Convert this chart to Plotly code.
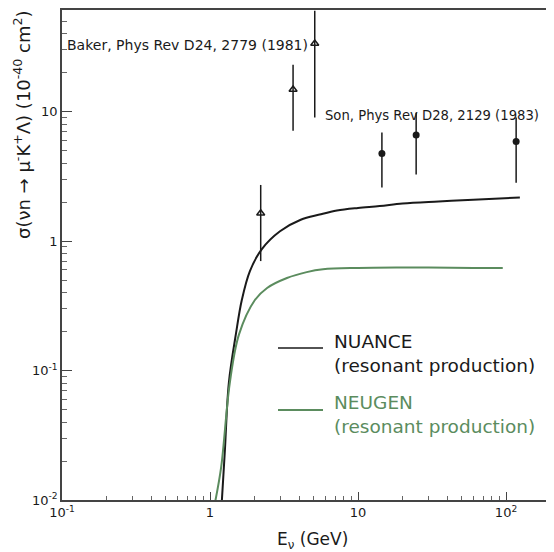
import plotly.graph_objects as go

# NUANCE resonant production curve
nuance_e = [1.20, 1.26, 1.34, 1.50, 1.64, 1.86, 2.24, 2.97, 4.1, 5.5, 7.2, 10, 14, 20, 35, 60, 124]
nuance_s = [0.0095, 0.024, 0.080, 0.195, 0.35, 0.586, 0.867, 1.19, 1.46, 1.60, 1.72, 1.80, 1.86, 1.95, 2.02, 2.08, 2.17]

# NEUGEN resonant production curve
neugen_e = [1.08, 1.19, 1.36, 1.57, 2.01, 2.43, 3.31, 4.5, 5.8, 10, 20, 30, 60, 95]
neugen_s = [0.0095, 0.018, 0.080, 0.19, 0.35, 0.434, 0.518, 0.575, 0.605, 0.62, 0.625, 0.625, 0.62, 0.62]

# Baker, Phys Rev D24 (open triangles)
baker_e = [2.2, 3.64, 5.1]
baker_s = [1.64, 14.8, 33.5]
baker_hi = [2.71, 23.0, 60.0]
baker_lo = [0.70, 7.1, 9.0]

# Son, Phys Rev D28 (filled circles)
son_e = [14.5, 24.7, 117]
son_s = [4.74, 6.6, 5.87]
son_hi = [6.9, 9.8, 9.0]
son_lo = [2.59, 3.27, 2.82]

GREEN = "#5b8c5e"
INK = "#1a1a1a"
FONT = "DejaVu Sans"

OFF = 8  # page body margin
FW, FH = 554 - OFF, 552 - OFF
L, T, W, H = 62, 10, 492, 490  # plot area in page pixels


def px(x):
    return (x - L) / W


def py(y):
    return (T + H - y) / H


fig = go.Figure()

fig.add_trace(go.Scatter(x=nuance_e, y=nuance_s, mode="lines", line=dict(color=INK, width=2, shape="spline"),
                         showlegend=False))
fig.add_trace(go.Scatter(x=neugen_e, y=neugen_s, mode="lines", line=dict(color=GREEN, width=2, shape="spline"),
                         showlegend=False))

fig.add_trace(go.Scatter(
    x=baker_e, y=baker_s, mode="markers",
    marker=dict(symbol="triangle-up-open", size=7, color=INK, line=dict(width=1.5, color=INK)),
    error_y=dict(type="data", symmetric=False,
                 array=[h - s for h, s in zip(baker_hi, baker_s)],
                 arrayminus=[s - l for s, l in zip(baker_s, baker_lo)],
                 color=INK, thickness=1.5, width=0),
    showlegend=False))

fig.add_trace(go.Scatter(
    x=son_e, y=son_s, mode="markers",
    marker=dict(symbol="circle", size=7, color=INK),
    error_y=dict(type="data", symmetric=False,
                 array=[h - s for h, s in zip(son_hi, son_s)],
                 arrayminus=[s - l for s, l in zip(son_s, son_lo)],
                 color=INK, thickness=1.5, width=0),
    showlegend=False))

minor_x = [m * 10 ** d for d in range(-1, 3) for m in range(2, 10)]
minor_y = [m * 10 ** d for d in range(-2, 2) for m in range(2, 10)]

fig.update_xaxes(
    type="log", range=[-1, 2.324], automargin=False,
    tickvals=[0.1, 1, 10, 100],
    ticktext=["10<sup>-1</sup>", "1", "10", "10<sup>2</sup>"],
    ticks="inside", ticklen=8, tickwidth=1.2, tickcolor="#444",
    minor=dict(tickvals=minor_x, ticks="inside", ticklen=4, tickcolor="#666", tickwidth=1),
    showline=True, linecolor="#444", linewidth=1.5, mirror=True,
    showgrid=False, zeroline=False,
    tickfont=dict(family=FONT, size=13, color=INK),
)
fig.update_yaxes(
    type="log", range=[-2, 1.784], automargin=False,
    tickvals=[0.01, 0.1, 1, 10],
    ticktext=["10<sup>-2</sup>", "10<sup>-1</sup>", "1", "10"],
    ticks="inside", ticklen=10, tickwidth=1.2, tickcolor="#444",
    minor=dict(tickvals=minor_y, ticks="inside", ticklen=5, tickcolor="#666", tickwidth=1),
    showline=True, linecolor="#444", linewidth=1.5, mirror=False,
    showgrid=False, zeroline=False,
    tickfont=dict(family=FONT, size=13, color=INK),
)

annos = [
    dict(x=px(65), y=py(45), text="Baker, Phys Rev D24, 2779 (1981)",
         font=dict(family=FONT, size=14, color=INK)),
    dict(x=px(323), y=py(115), text="Son, Phys Rev D28, 2129 (1983)",
         font=dict(family=FONT, size=13.2, color=INK)),
    dict(x=px(332), y=py(353), text="NUANCE<br>(resonant production)",
         font=dict(family=FONT, size=18.5, color=INK)),
    dict(x=px(332), y=py(414), text="NEUGEN<br>(resonant production)",
         font=dict(family=FONT, size=18.5, color=GREEN)),
]
for a in annos:
    a.update(xref="paper", yref="paper", xanchor="left", yanchor="middle", align="left", showarrow=False)

annos.append(dict(xref="paper", yref="paper", x=px(22), y=py(125), xanchor="center", yanchor="middle",
                  showarrow=False, textangle=-90,
                  text="σ(νn → μ<sup>-</sup>K<sup>+</sup>Λ) (10<sup>-40</sup> cm<sup>2</sup>)",
                  font=dict(family=FONT, size=18, color=INK)))
annos.append(dict(xref="paper", yref="paper", x=px(312), y=py(540), xanchor="center", yanchor="middle",
                  showarrow=False, text="E<sub>ν</sub> (GeV)",
                  font=dict(family=FONT, size=17, color=INK)))
fig.update_layout(annotations=annos)

fig.add_shape(type="line", xref="paper", yref="paper", x0=px(278), x1=px(323),
              y0=py(348), y1=py(348), line=dict(color=INK, width=1.5))
fig.add_shape(type="line", xref="paper", yref="paper", x0=px(278), x1=px(323),
              y0=py(410), y1=py(410), line=dict(color=GREEN, width=2))

fig.update_layout(
    width=FW, height=FH,
    margin=dict(l=L - OFF, r=FW - (L - OFF) - W, t=T - OFF, b=FH - (T - OFF) - H, autoexpand=False),
    paper_bgcolor="white", plot_bgcolor="white",
    showlegend=False,
)

fig.write_html("out.html")
